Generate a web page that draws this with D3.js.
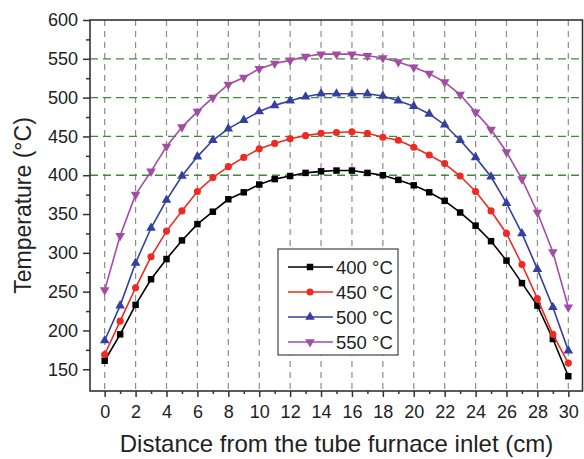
<!DOCTYPE html>
<html>
<head>
<meta charset="utf-8">
<script src="https://cdn.jsdelivr.net/npm/d3@7"></script>
<style>
  body { margin: 0; background: #fff; }
  svg { display: block; font-family: "Liberation Sans", Arial, sans-serif; }
</style>
</head>
<body>
<div id="chart"></div>
<script>
// Distance from inlet (cm)
const distance = [0, 1, 2, 3, 4, 5, 6, 7, 8, 9, 10, 11, 12, 13, 14, 15,
  16, 17, 18, 19, 20, 21, 22, 23, 24, 25, 26, 27, 28, 29, 30];

// Measured temperatures for each set point
const t400 = [161, 195, 233, 266, 292, 316, 337, 353, 369, 378, 388, 395, 399, 403, 405, 406,
  406, 403, 400, 394, 387, 378, 367, 352, 335, 315, 290, 261, 232, 189, 141];
const t450 = [169, 212, 255, 295, 328, 354, 379, 397, 411, 423, 434, 441, 447, 451, 454, 455,
  456, 454, 449, 445, 436, 426, 415, 399, 379, 354, 325, 285, 241, 195, 158];
const t500 = [187, 232, 287, 332, 368, 399, 424, 445, 460, 471, 482, 490, 496, 501, 505, 505,
  505, 505, 502, 496, 489, 479, 465, 445, 423, 398, 364, 325, 279, 230, 174];
const t550 = [252, 322, 375, 405, 437, 462, 482, 500, 517, 526, 537, 544, 548, 553, 556, 556,
  556, 554, 551, 546, 539, 531, 520, 504, 481, 459, 430, 395, 352, 301, 230];

const seriesNames = ['400 °C', '450 °C', '500 °C', '550 °C'];

const xTicks = [0, 2, 4, 6, 8, 10, 12, 14, 16, 18, 20, 22, 24, 26, 28, 30];
const xMinorTicks = [1, 3, 5, 7, 9, 11, 13, 15, 17, 19, 21, 23, 25, 27, 29];
const yTicks = [150, 200, 250, 300, 350, 400, 450, 500, 550, 600];
const yMinorTicks = [175, 225, 275, 325, 375, 425, 475, 525, 575];
const yGridLines = [400, 450, 500, 550];

const width = 584, height = 459;
const margin = { top: 20, right: 1, bottom: 68, left: 90 };

const svg = d3.select('#chart').append('svg')
  .attr('width', width)
  .attr('height', height);

const x = d3.scaleLinear()
  .domain([-0.95, 30.95])
  .range([margin.left, width - margin.right]);

const y = d3.scaleLinear()
  .domain([122, 600])
  .range([height - margin.bottom, margin.top]);

const series = [
  { name: seriesNames[0], values: t400, color: '#000000', symbol: d3.symbolSquare, size: 42, rot: 0 },
  { name: seriesNames[1], values: t450, color: '#ee2a22', symbol: d3.symbolCircle, size: 40, rot: 0 },
  { name: seriesNames[2], values: t500, color: '#34409e', symbol: d3.symbolTriangle, size: 40, rot: 0 },
  { name: seriesNames[3], values: t550, color: '#a24ca6', symbol: d3.symbolTriangle, size: 40, rot: 180 }
];

// grid lines
svg.append('g')
  .selectAll('line')
  .data(xTicks)
  .join('line')
  .attr('x1', d => x(d)).attr('x2', d => x(d))
  .attr('y1', y.range()[1]).attr('y2', y.range()[0])
  .attr('stroke', '#8c8c8c')
  .attr('stroke-width', 1.2)
  .attr('stroke-dasharray', '6,5');

svg.append('g')
  .selectAll('line')
  .data(yGridLines)
  .join('line')
  .attr('x1', x.range()[0]).attr('x2', x.range()[1])
  .attr('y1', d => y(d)).attr('y2', d => y(d))
  .attr('stroke', '#3f8a3a')
  .attr('stroke-width', 1.3)
  .attr('stroke-dasharray', '8,5');

// data lines + symbols
const line = d3.line()
  .x((d, i) => x(distance[i]))
  .y(d => y(d));

series.forEach(s => {
  svg.append('path')
    .datum(s.values)
    .attr('fill', 'none')
    .attr('stroke', s.color)
    .attr('stroke-width', 1.6)
    .attr('d', line);

  svg.append('g')
    .selectAll('path')
    .data(s.values)
    .join('path')
    .attr('d', d3.symbol().type(s.symbol).size(s.size))
    .attr('transform', (d, i) => `translate(${x(distance[i])},${y(d)}) rotate(${s.rot})`)
    .attr('fill', s.color);
});

// axes
svg.append('g')
  .attr('transform', `translate(0,${y.range()[0]})`)
  .call(d3.axisBottom(x).tickValues(xTicks).tickSize(6).tickPadding(8).tickSizeOuter(0));
svg.append('g')
  .attr('transform', `translate(0,${y.range()[0]})`)
  .call(d3.axisBottom(x).tickValues(xMinorTicks).tickSize(3).tickFormat('').tickSizeOuter(0));

svg.append('g')
  .attr('transform', `translate(${x.range()[0]},0)`)
  .call(d3.axisLeft(y).tickValues(yTicks).tickSize(7).tickPadding(5).tickSizeOuter(0));
svg.append('g')
  .attr('transform', `translate(${x.range()[0]},0)`)
  .call(d3.axisLeft(y).tickValues(yMinorTicks).tickSize(4).tickFormat('').tickSizeOuter(0));

svg.selectAll('.tick line').attr('stroke', '#333').attr('stroke-width', 1.5);
svg.selectAll('.tick text').attr('font-size', 18).attr('fill', '#222');
svg.selectAll('.domain').remove();

// frame
svg.append('rect')
  .attr('x', x.range()[0])
  .attr('y', y.range()[1])
  .attr('width', x.range()[1] - x.range()[0] - 0.5)
  .attr('height', y.range()[0] - y.range()[1])
  .attr('fill', 'none')
  .attr('stroke', '#333')
  .attr('stroke-width', 1.6);

// axis titles
svg.append('text')
  .attr('x', (x.range()[0] + x.range()[1]) / 2)
  .attr('y', 452)
  .attr('text-anchor', 'middle')
  .attr('font-size', 24)
  .attr('fill', '#222')
  .text('Distance from the tube furnace inlet (cm)');

svg.append('text')
  .attr('transform', `translate(31,${(y.range()[0] + y.range()[1]) / 2}) rotate(-90)`)
  .attr('text-anchor', 'middle')
  .attr('font-size', 23)
  .attr('fill', '#222')
  .text('Temperature (°C)');

// legend
const legend = svg.append('g').attr('transform', 'translate(278,249)');
legend.append('rect')
  .attr('width', 120).attr('height', 106)
  .attr('fill', '#fff')
  .attr('stroke', '#444')
  .attr('stroke-width', 1.2);

series.forEach((s, i) => {
  const row = legend.append('g').attr('transform', `translate(0,${18 + i * 25})`);
  row.append('line')
    .attr('x1', 10).attr('x2', 55)
    .attr('stroke', s.color).attr('stroke-width', 1.6);
  row.append('path')
    .attr('d', d3.symbol().type(s.symbol).size(s.size))
    .attr('transform', `translate(32,0) rotate(${s.rot})`)
    .attr('fill', s.color);
  row.append('text')
    .attr('x', 58).attr('y', 6.5)
    .attr('font-size', 18.5)
    .attr('fill', '#222')
    .text(s.name);
});
</script>
</body>
</html>
